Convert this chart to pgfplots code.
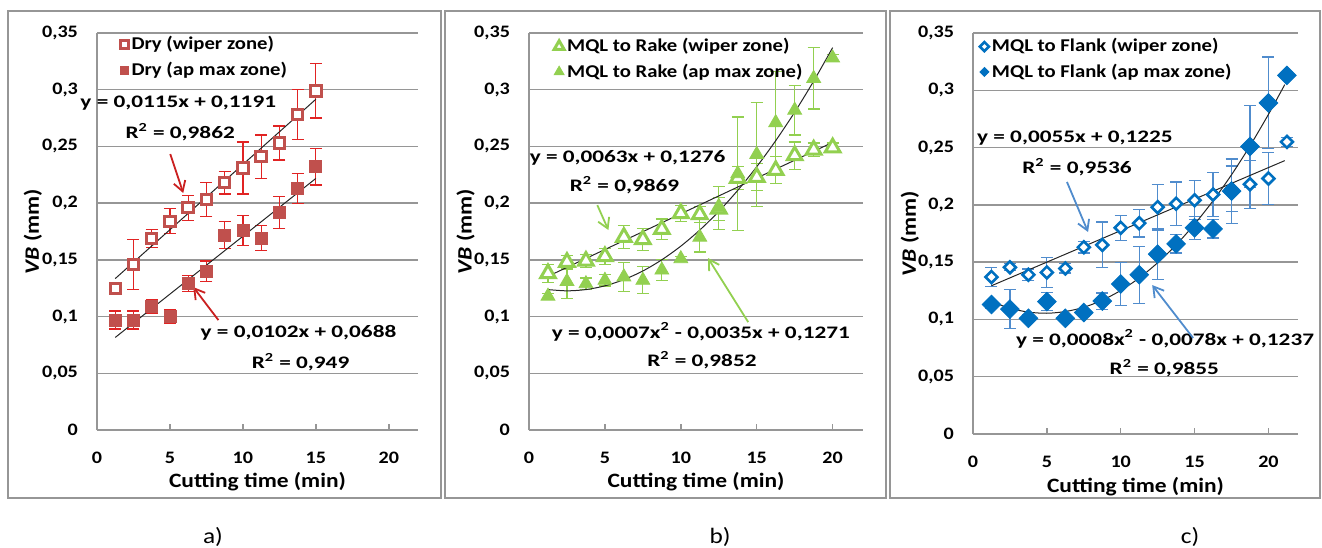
\documentclass[border=0pt]{standalone}
\usepackage{pgfplots}
\pgfplotsset{compat=1.18}
\usepackage{pgfplotstable}
\usepackage{fontspec}
\setmainfont{Carlito}[FakeStretch=1.15]
\newfontfamily\eqfont{Carlito}[FakeStretch=1.32]
\usetikzlibrary{arrows.meta}

\definecolor{redM}{RGB}{192,80,77}
\definecolor{redE}{RGB}{225,35,35}
\definecolor{greenM}{RGB}{146,208,80}
\definecolor{blueM}{RGB}{0,112,192}
\definecolor{blueE}{RGB}{80,140,205}
\definecolor{gridgray}{RGB}{150,150,150}

\pgfplotstableread{
x y e
1.25 0.125 0.004
2.5 0.146 0.022
3.75 0.169 0.008
5 0.184 0.011
6.25 0.196 0.011
7.5 0.203 0.015
8.75 0.218 0.010
10 0.231 0.023
11.25 0.241 0.019
12.5 0.253 0.015
13.75 0.278 0.022
15 0.299 0.024
}\drywiper
\pgfplotstableread{
x y e
1.25 0.097 0.008
2.5 0.097 0.008
3.75 0.109 0.006
5 0.100 0.006
6.25 0.129 0.007
7.5 0.140 0.009
8.75 0.172 0.012
10 0.176 0.013
11.25 0.169 0.011
12.5 0.192 0.014
13.75 0.213 0.013
15 0.232 0.016
}\dryap
\pgfplotstableread{
x y e
1.25 0.138 0.008
2.5 0.148 0.006
3.75 0.149 0.006
5 0.153 0.007
6.25 0.170 0.010
7.5 0.168 0.010
8.75 0.177 0.009
10 0.191 0.007
11.25 0.190 0.007
12.5 0.195 0.010
13.75 0.222 0.010
15 0.223 0.012
16.25 0.229 0.012
17.5 0.242 0.012
18.75 0.247 0.006
20 0.249 0.004
}\rakewiper
\pgfplotstableread{
x y e
1.25 0.118 0.002
2.5 0.131 0.015
3.75 0.129 0.005
5 0.132 0.005
6.25 0.135 0.013
7.5 0.132 0.012
8.75 0.141 0.009
10 0.151 0.002
11.25 0.170 0.013
12.5 0.196 0.019
13.75 0.226 0.050
15 0.243 0.046
16.25 0.271 0.045
17.5 0.282 0.022
18.75 0.310 0.027
20 0.328 0.003
}\rakeap
\pgfplotstableread{
x y e
1.25 0.137 0.008
2.5 0.1455 0.003
3.75 0.139 0.005
5 0.141 0.013
6.25 0.1445 0.004
7.5 0.163 0.005
8.75 0.165 0.020
10 0.180 0.011
11.25 0.184 0.012
12.5 0.198 0.020
13.75 0.201 0.019
15 0.204 0.017
16.25 0.209 0.019
17.5 0.214 0.020
18.75 0.218 0.021
20 0.223 0.023
21.25 0.255 0.004
}\flankwiper
\pgfplotstableread{
x y e
1.25 0.113 0.003
2.5 0.109 0.017
3.75 0.101 0.003
5 0.1155 0.008
6.25 0.101 0.003
7.5 0.106 0.003
8.75 0.116 0.007
10 0.131 0.019
11.25 0.139 0.025
12.5 0.157 0.022
13.75 0.166 0.008
15 0.180 0.010
16.25 0.179 0.008
17.5 0.212 0.028
18.75 0.251 0.036
20 0.289 0.040
21.25 0.313 0.003
}\flankap

\tikzset{eq/.style={font=\eqfont\bfseries\fontsize{8.8}{10}\selectfont}}
\pgfplotsset{
  panel/.style={
    scale only axis, clip=false,
    xmin=0, xmax=22, ymin=0, ymax=0.35,
    xtick={0,5,10,15,20},
    ytick={0,0.05,0.1,0.15,0.2,0.25,0.3,0.35},
    axis x line=bottom, axis y line=left,
    axis line style={gridgray, line width=0.7pt, -},
    ymajorgrids,
    grid style={gridgray, line width=0.7pt},
    tick align=inside,
    major tick length=3pt,
    xtick style={gridgray, line width=0.7pt},
    ytick style={draw=none},
    tick label style={font=\bfseries\fontsize{8.75}{10}\selectfont},
    /pgf/number format/assume math mode=true,
    yticklabel style={/pgf/number format/use comma,
      /pgf/number format/fixed, /pgf/number format/precision=2,
      /tikz/xshift=-6pt},
    xticklabel style={yshift=-7.5pt},
    xlabel={Cutting time (min)},
    ylabel={\textit{VB} (mm)},
    label style={font=\bfseries\fontsize{10.2}{12}\selectfont},
    xlabel style={at={(axis description cs:0.5,-0.131)}, anchor=center},
    legend style={draw=none, fill=none, anchor=north west,
      font=\bfseries\fontsize{9}{10}\selectfont, row sep=1.5pt, inner sep=0pt,
      nodes={inner sep=1.5pt}},
    legend cell align=left,
  },
  eb/.style={error bars/.cd, y dir=both, y explicit,
    error bar style={line width=0.6pt, #1},
    error mark options={rotate=90, mark size=3pt, line width=0.6pt, #1}},
  trend/.style={black!85, line width=0.5pt, forget plot, no markers},
}

\begin{document}
\begin{tikzpicture}
\useasboundingbox (0,0) rectangle (661pt,-273.5pt);
\draw[gridgray, line width=1pt] (4pt,-5.5pt) rectangle (220.5pt,-249pt);
\draw[gridgray, line width=1pt] (222.5pt,-5.5pt) rectangle (443pt,-249pt);
\draw[gridgray, line width=1pt] (445pt,-5.5pt) rectangle (660pt,-249pt);

% a) Dry
\begin{axis}[panel, at={(48.5pt,-215pt)}, anchor=origin,
  width=160.5pt, height=198.5pt,
  ylabel style={at={(axis description cs:-0.2,0.5)}, anchor=center},
  legend style={at={(axis description cs:0.072,1.0)}},
  legend image post style={mark size=2pt}]
\addplot[only marks, mark=square*, mark size=2.6pt,
  mark options={draw=redM, fill=white, line width=1.5pt},
  eb=redE] table[x=x, y=y, y error=e] {\drywiper};
\addlegendentry{Dry (wiper zone)}
\addplot[only marks, mark=square*, mark size=3pt,
  mark options={draw=redM, fill=redM},
  eb=redE] table[x=x, y=y, y error=e] {\dryap};
\addlegendentry{Dry (ap max zone)}
\addplot[trend] coordinates {(1.25,0.1335) (15,0.2916)};
\addplot[trend] coordinates {(1.25,0.0816) (15,0.2218)};
\node[eq] at (axis cs:5.57,0.2883) {y = 0,0115x + 0,1191};
\node[eq] at (axis cs:5.7,0.2627) {R\textsuperscript{2} = 0,9862};
\node[eq] at (axis cs:13.81,0.0855) {y = 0,0102x + 0,0688};
\node[eq] at (axis cs:13.95,0.0599) {R\textsuperscript{2} = 0,949};
\draw[redE!90!black, line width=0.9pt, -{Straight Barb[length=5pt,width=6pt]}]
  (axis cs:5.02,0.2433) -- (axis cs:5.91,0.2089);
\draw[redE!90!black, line width=0.9pt, -{Straight Barb[length=5pt,width=6pt]}]
  (axis cs:8.32,0.0969) -- (axis cs:6.6,0.126);
\end{axis}

% b) MQL to Rake
\begin{axis}[panel, at={(264.5pt,-215pt)}, anchor=origin,
  width=167pt, height=198.5pt,
  ylabel style={at={(axis description cs:-0.19,0.5)}, anchor=center},
  legend style={at={(axis description cs:0.074,0.995)}},
  legend image post style={mark size=2.9pt}]
\addplot[only marks, mark=triangle*, mark size=4.2pt,
  mark options={draw=greenM, fill=white, line width=1.5pt},
  eb=greenM] table[x=x, y=y, y error=e] {\rakewiper};
\addlegendentry{MQL to Rake (wiper zone)}
\addplot[only marks, mark=triangle*, mark size=4pt,
  mark options={draw=greenM, fill=greenM},
  eb=greenM] table[x=x, y=y, y error=e] {\rakeap};
\addlegendentry{MQL to Rake (ap max zone)}
\addplot[trend] coordinates {(1.25,0.1355) (20,0.2536)};
\addplot[trend, smooth] coordinates {
  (1.25,0.1238) (2.5,0.1227) (3.75,0.1238) (5,0.1271) (6.25,0.1326)
  (7.5,0.1402) (8.75,0.1501) (10,0.1621) (11.25,0.1763) (12.5,0.1927)
  (13.75,0.2113) (15,0.2321) (16.25,0.2551) (17.5,0.2802) (18.75,0.3076)
  (20,0.3371)};
\node[eq] at (axis cs:6.49,0.2398) {y = 0,0063x + 0,1276};
\node[eq] at (axis cs:6.29,0.216) {R\textsuperscript{2} = 0,9869};
\node[eq] at (axis cs:11.32,0.0863) {y = 0,0007x\textsuperscript{2} - 0,0035x + 0,1271};
\node[eq] at (axis cs:11.39,0.0616) {R\textsuperscript{2} = 0,9852};
\draw[greenM, line width=0.9pt, -{Straight Barb[length=5pt,width=6pt]}]
  (axis cs:4.5,0.1983) -- (axis cs:5.23,0.1763);
\draw[greenM, line width=0.9pt, -{Straight Barb[length=5pt,width=6pt]}]
  (axis cs:14.44,0.0951) -- (axis cs:11.79,0.1516);
\end{axis}

% c) MQL to Flank
\begin{axis}[panel, at={(486.5pt,-217pt)}, anchor=origin,
  width=162.5pt, height=200.5pt,
  ylabel style={at={(axis description cs:-0.194,0.5)}, anchor=center},
  legend style={at={(axis description cs:0.02,0.995)}},
  legend image post style={mark size=1.6pt}]
\addplot[only marks, mark=square*, mark size=2.1pt,
  mark options={draw=blueM, fill=white, line width=1.3pt, rotate=45},
  eb=blueE] table[x=x, y=y, y error=e] {\flankwiper};
\addlegendentry{MQL to Flank (wiper zone)}
\addplot[only marks, mark=square*, mark size=3.3pt,
  mark options={draw=blueM, fill=blueM, rotate=45},
  eb=blueE] table[x=x, y=y, y error=e] {\flankap};
\addlegendentry{MQL to Flank (ap max zone)}
\addplot[trend] coordinates {(1.25,0.1294) (21.1,0.2386)};
\addplot[trend, smooth] coordinates {
  (1.25,0.1155) (2.5,0.1098) (3.75,0.1064) (5,0.1054) (6.25,0.1069)
  (7.5,0.1106) (8.75,0.1168) (10,0.1253) (11.25,0.1362) (12.5,0.1495)
  (13.75,0.1651) (15,0.1832) (16.25,0.2036) (17.5,0.2263) (18.75,0.2515)
  (20,0.2790) (21.1,0.3049)};
\node[eq] at (axis cs:6.9,0.2584) {y = 0,0055x + 0,1225};
\node[eq] at (axis cs:7.04,0.233) {R\textsuperscript{2} = 0,9536};
\node[eq] at (axis cs:13.0,0.0829) {y = 0,0008x\textsuperscript{2} - 0,0078x + 0,1237};
\node[eq] at (axis cs:12.95,0.0576) {R\textsuperscript{2} = 0,9855};
\draw[blueE, line width=0.9pt, -{Straight Barb[length=5pt,width=6pt]}]
  (axis cs:6.36,0.22) -- (axis cs:7.79,0.1763);
\draw[blueE, line width=0.9pt, -{Straight Barb[length=5pt,width=6pt]}]
  (axis cs:14.9,0.0838) -- (axis cs:12.13,0.13);
\end{axis}

\node[font=\fontsize{11}{12}\selectfont] at (106.5pt,-268.5pt) {a)};
\node[font=\fontsize{11}{12}\selectfont] at (360pt,-268.5pt) {b)};
\node[font=\fontsize{11}{12}\selectfont] at (595pt,-268.5pt) {c)};
\end{tikzpicture}
\end{document}
